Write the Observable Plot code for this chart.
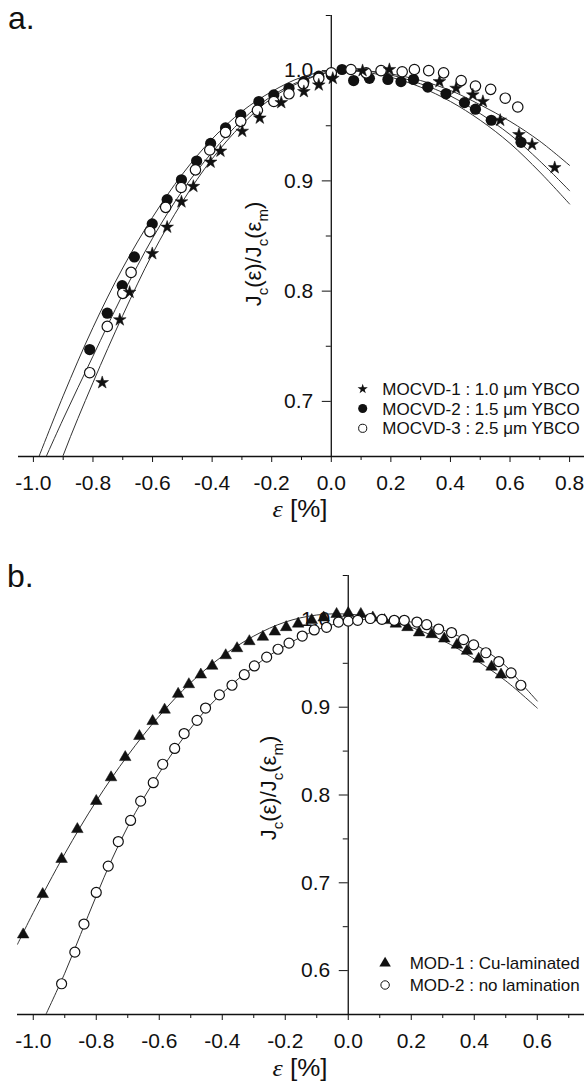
<!DOCTYPE html>
<html>
<head>
<meta charset="utf-8">
<script src="https://cdn.jsdelivr.net/npm/d3@7"></script>
<script src="https://cdn.jsdelivr.net/npm/@observablehq/plot@0.6"></script>
<style>
  body { margin: 0; background: #fff; }
  #chart svg { display: block; }
</style>
</head>
<body>
<div id="chart"></div>
<script>
// ---------- Panel a data ----------
const mocvd1Strain = [-0.769, -0.710, -0.677, -0.601, -0.551, -0.503, -0.463, -0.405, -0.372, -0.299, -0.240, -0.168, -0.092, -0.042, 0.005, 0.105, 0.195, 0.363, 0.419, 0.475, 0.509, 0.567, 0.630, 0.674, 0.750];
const mocvd1Jc     = [0.717, 0.774, 0.799, 0.834, 0.858, 0.881, 0.895, 0.917, 0.927, 0.945, 0.957, 0.971, 0.981, 0.987, 0.993, 1.000, 1.001, 0.990, 0.984, 0.978, 0.972, 0.955, 0.942, 0.933, 0.912];

const mocvd2Strain = [-0.811, -0.752, -0.702, -0.661, -0.601, -0.551, -0.503, -0.452, -0.405, -0.355, -0.304, -0.243, -0.193, -0.142, -0.092, -0.042, 0.000, 0.036, 0.075, 0.128, 0.190, 0.234, 0.276, 0.324, 0.385, 0.447, 0.484, 0.537, 0.637];
const mocvd2Jc     = [0.747, 0.780, 0.805, 0.831, 0.861, 0.883, 0.901, 0.918, 0.934, 0.948, 0.960, 0.972, 0.978, 0.984, 0.990, 0.995, 0.996, 1.001, 0.991, 0.993, 0.992, 0.990, 0.992, 0.985, 0.979, 0.971, 0.965, 0.955, 0.935];

const mocvd3Strain = [-0.811, -0.752, -0.700, -0.672, -0.609, -0.556, -0.504, -0.456, -0.408, -0.355, -0.304, -0.248, -0.193, -0.142, -0.094, -0.042, 0.000, 0.066, 0.117, 0.167, 0.238, 0.279, 0.327, 0.377, 0.436, 0.484, 0.535, 0.584, 0.626];
const mocvd3Jc     = [0.726, 0.768, 0.798, 0.817, 0.854, 0.876, 0.894, 0.910, 0.928, 0.944, 0.954, 0.964, 0.972, 0.979, 0.988, 0.993, 0.998, 1.001, 0.998, 1.000, 0.999, 1.001, 1.000, 0.998, 0.991, 0.986, 0.983, 0.975, 0.967];

// fitted curves
const fitStrainA = [-1.0, -0.9, -0.8, -0.7, -0.6, -0.5, -0.4, -0.3, -0.2, -0.1, 0.0, 0.1, 0.2, 0.3, 0.4, 0.5, 0.6, 0.7, 0.8];
const fitMocvd1  = [0.574, 0.651, 0.717, 0.778, 0.834, 0.881, 0.920, 0.951, 0.975, 0.990, 0.999, 1.000, 0.996, 0.988, 0.977, 0.961, 0.942, 0.918, 0.891];
const fitMocvd2  = [0.637, 0.705, 0.767, 0.821, 0.867, 0.906, 0.938, 0.963, 0.981, 0.994, 1.000, 0.999, 0.994, 0.985, 0.972, 0.955, 0.934, 0.908, 0.879];
const fitMocvd3  = [0.624, 0.684, 0.741, 0.797, 0.848, 0.891, 0.926, 0.955, 0.977, 0.991, 0.999, 1.000, 0.997, 0.991, 0.982, 0.969, 0.954, 0.936, 0.914];

// ---------- Panel b data ----------
const mod1Strain = [-1.032, -0.970, -0.910, -0.860, -0.800, -0.753, -0.708, -0.663, -0.621, -0.583, -0.540, -0.506, -0.468, -0.432, -0.389, -0.353, -0.314, -0.271, -0.233, -0.197, -0.159, -0.116, -0.078, -0.037, 0.000, 0.040, 0.078, 0.115, 0.151, 0.188, 0.225, 0.265, 0.305, 0.345, 0.377, 0.414, 0.455, 0.485];
const mod1Jc     = [0.641, 0.687, 0.727, 0.761, 0.793, 0.820, 0.843, 0.867, 0.884, 0.897, 0.915, 0.926, 0.937, 0.947, 0.959, 0.967, 0.975, 0.980, 0.986, 0.991, 0.995, 0.999, 1.002, 1.006, 1.007, 1.006, 1.002, 0.999, 0.995, 0.991, 0.985, 0.983, 0.978, 0.971, 0.964, 0.955, 0.946, 0.937];

const mod2Strain = [-0.910, -0.868, -0.839, -0.800, -0.762, -0.730, -0.691, -0.659, -0.619, -0.589, -0.551, -0.521, -0.480, -0.453, -0.409, -0.369, -0.330, -0.298, -0.259, -0.223, -0.188, -0.146, -0.108, -0.069, -0.031, 0.000, 0.030, 0.070, 0.107, 0.146, 0.178, 0.218, 0.249, 0.287, 0.328, 0.366, 0.398, 0.437, 0.478, 0.517, 0.548];
const mod2Jc     = [0.585, 0.621, 0.653, 0.689, 0.719, 0.747, 0.771, 0.793, 0.814, 0.835, 0.853, 0.870, 0.885, 0.899, 0.914, 0.925, 0.937, 0.947, 0.957, 0.966, 0.973, 0.981, 0.988, 0.991, 0.997, 0.998, 0.999, 1.001, 1.000, 0.999, 0.999, 0.997, 0.994, 0.989, 0.985, 0.977, 0.971, 0.962, 0.952, 0.939, 0.925];

const fitStrainMod1 = [-1.05, -1.0, -0.9, -0.8, -0.7, -0.6, -0.5, -0.4, -0.3, -0.2, -0.1, 0.0, 0.1, 0.2, 0.3, 0.4, 0.5, 0.6];
const fitMod1       = [0.630, 0.666, 0.733, 0.793, 0.845, 0.890, 0.928, 0.958, 0.981, 0.997, 1.005, 1.006, 1.001, 0.991, 0.976, 0.955, 0.930, 0.899];
const fitStrainMod2 = [-0.96, -0.9, -0.85, -0.8, -0.75, -0.7, -0.65, -0.6, -0.55, -0.5, -0.45, -0.4, -0.35, -0.3, -0.25, -0.2, -0.15, -0.1, -0.05, 0, 0.05, 0.1, 0.15, 0.2, 0.25, 0.3, 0.35, 0.4, 0.45, 0.5, 0.55, 0.6];
const fitMod2       = [0.550, 0.597, 0.641, 0.685, 0.727, 0.764, 0.796, 0.825, 0.852, 0.876, 0.898, 0.916, 0.932, 0.946, 0.959, 0.970, 0.980, 0.988, 0.994, 0.998, 1.000, 1.000, 0.999, 0.997, 0.993, 0.988, 0.981, 0.972, 0.961, 0.947, 0.927, 0.907];

// ---------- tick values & labels ----------
const xMajorA = [-1.0, -0.8, -0.6, -0.4, -0.2, 0.0, 0.2, 0.4, 0.6, 0.8];
const xMinorA = [-0.9, -0.7, -0.5, -0.3, -0.1, 0.1, 0.3, 0.5, 0.7];
const yMajorA = [0.7, 0.8, 0.9, 1.0];
const yMinorA = [0.75, 0.85, 0.95, 1.05];
const xMajorB = [-1.0, -0.8, -0.6, -0.4, -0.2, 0.0, 0.2, 0.4, 0.6];
const xMinorB = [-0.9, -0.7, -0.5, -0.3, -0.1, 0.1, 0.3, 0.5, 0.7];
const yMajorB = [0.6, 0.7, 0.8, 0.9, 1.0];
const yMinorB = [0.65, 0.75, 0.85, 0.95, 1.05];

const legendA = ["MOCVD-1 : 1.0 \u03bcm YBCO", "MOCVD-2 : 1.5 \u03bcm YBCO", "MOCVD-3 : 2.5 \u03bcm YBCO"];
const legendB = ["MOD-1 : Cu-laminated", "MOD-2 : no lamination"];

// ---------- helpers ----------
const FONT = "'Liberation Sans', Arial, sans-serif";
const INK = "#111";
const pts = (xs, ys) => xs.map((x, i) => ({x, y: ys[i]}));
const fmt = d => (Math.abs(d) < 1e-9 ? 0 : d).toFixed(1);

function axes(xMajor, xMinor, yMajor, yMinor, yBottom) {
  return [
    Plot.axisX({ticks: xMinor, tickSize: 4, tickFormat: () => "", stroke: INK, label: null}),
    Plot.axisX({ticks: xMajor, tickSize: 6, tickPadding: 13, tickFormat: fmt, stroke: INK, fill: INK, label: null}),
    Plot.axisY({ticks: yMinor, x: 0, tickSize: 5, tickFormat: () => "", stroke: INK, label: null}),
    Plot.axisY({ticks: yMajor, x: 0, tickSize: 9, tickPadding: 9, tickFormat: fmt, stroke: INK, fill: INK, label: null}),
    Plot.ruleX([0], {stroke: INK, strokeWidth: 1.3}),
    Plot.ruleY([yBottom], {stroke: INK, strokeWidth: 1.3})
  ];
}

function addText(svg, x, y, size, s) {
  return d3.select(svg).append("text")
    .attr("x", x).attr("y", y).attr("fill", INK).attr("text-anchor", "start")
    .style("font-family", FONT).style("font-size", size + "px").text(s);
}

function yLabel(svg, x, y) {
  const t = d3.select(svg).append("text")
    .attr("transform", `translate(${x},${y}) rotate(-90)`)
    .attr("text-anchor", "middle").attr("fill", INK)
    .style("font-family", FONT).style("font-size", "22px");
  const parts = [["J", 0], ["c", 1], ["(\u03b5)/J", 0], ["c", 1], ["(\u03b5", 0], ["m", 1], [")", 0]];
  let cur = 0;
  for (const [s, sub] of parts) {
    const target = sub ? 7 : 0;
    const ts = t.append("tspan").attr("dy", target - cur).text(s);
    if (sub) ts.style("font-size", "15px");
    cur = target;
  }
}

function xLabel(svg, x, y) {
  const t = d3.select(svg).append("text")
    .attr("x", x).attr("y", y).attr("text-anchor", "middle").attr("fill", INK)
    .attr("textLength", 55).attr("lengthAdjust", "spacingAndGlyphs")
    .style("font-family", FONT).style("font-size", "23px");
  t.append("tspan").style("font-family", "'Liberation Serif', 'DejaVu Serif', serif").style("font-style", "italic").text("\u03b5");
  t.append("tspan").text(" [%]");
}

const baseStyle = {fontFamily: FONT, fontSize: "21px", color: INK, background: "white", overflow: "visible"};

// ---------- Panel a ----------
const svgA = Plot.plot({
  width: 584, height: 535,
  marginLeft: 18, marginRight: 0, marginTop: 15, marginBottom: 79,
  x: {domain: [-1.05, 0.85], label: null},
  y: {domain: [0.65, 1.05], label: null},
  style: baseStyle,
  marks: [
    ...axes(xMajorA, xMinorA, yMajorA, yMinorA, 0.65),
    Plot.line(pts(fitStrainA, fitMocvd1), {x: "x", y: "y", curve: "catmull-rom", stroke: "#333", strokeWidth: 1, clip: true}),
    Plot.line(pts(fitStrainA, fitMocvd2), {x: "x", y: "y", curve: "catmull-rom", stroke: "#333", strokeWidth: 1, clip: true}),
    Plot.line(pts(fitStrainA, fitMocvd3), {x: "x", y: "y", curve: "catmull-rom", stroke: "#333", strokeWidth: 1, clip: true}),
    Plot.dot(pts(mocvd2Strain, mocvd2Jc), {x: "x", y: "y", r: 5.6, fill: INK, stroke: "none"}),
    Plot.dot(pts(mocvd3Strain, mocvd3Jc), {x: "x", y: "y", r: 5.2, fill: "white", stroke: INK, strokeWidth: 1.2}),
    Plot.dot(pts(mocvd1Strain, mocvd1Jc), {x: "x", y: "y", symbol: "star", r: 4.0, fill: INK, stroke: INK, strokeWidth: 0.5})
  ]
});
addText(svgA, 8, 28.5, 32, "a.");
yLabel(svgA, 261, 254);
xLabel(svgA, 300, 517);
{
  const g = d3.select(svgA).append("g");
  const ys = [389, 408.5, 428.3];
  const syms = [
    {type: d3.symbolStar, size: 32, fill: INK, stroke: "none"},
    {type: d3.symbolCircle, size: 64, fill: INK, stroke: "none"},
    {type: d3.symbolCircle, size: 52, fill: "white", stroke: INK}
  ];
  syms.forEach((s, i) => {
    g.append("path").attr("d", d3.symbol(s.type, s.size)())
      .attr("transform", `translate(362.7,${ys[i]})`)
      .attr("fill", s.fill).attr("stroke", s.stroke).attr("stroke-width", 1);
    addText(svgA, 382.3, ys[i] + 6, 17, legendA[i]);
  });
}

// ---------- Panel b ----------
const svgB = Plot.plot({
  width: 584, height: 548,
  marginLeft: 17, marginRight: 0, marginTop: 40, marginBottom: 69,
  x: {domain: [-1.05, 0.75], label: null},
  y: {domain: [0.55, 1.05], label: null},
  style: baseStyle,
  marks: [
    ...axes(xMajorB, xMinorB, yMajorB, yMinorB, 0.55),
    Plot.line(pts(fitStrainMod1, fitMod1), {x: "x", y: "y", curve: "catmull-rom", stroke: "#333", strokeWidth: 1, clip: true}),
    Plot.line(pts(fitStrainMod2, fitMod2), {x: "x", y: "y", curve: "catmull-rom", stroke: "#333", strokeWidth: 1, clip: true}),
    Plot.dot(pts(mod1Strain, mod1Jc), {x: "x", y: "y", symbol: "triangle", r: 4.3, fill: INK, stroke: INK, strokeWidth: 0.5}),
    Plot.dot(pts(mod2Strain, mod2Jc), {x: "x", y: "y", r: 5.0, fill: "white", stroke: INK, strokeWidth: 1.2})
  ]
});
addText(svgB, 7, 51.7, 32, "b.");
yLabel(svgB, 276, 253);
xLabel(svgB, 300, 540.6);
{
  const g = d3.select(svgB).append("g");
  const ys = [428.3, 450];
  const syms = [
    {type: d3.symbolTriangle, size: 57, fill: INK, stroke: "none"},
    {type: d3.symbolCircle, size: 56, fill: "white", stroke: INK}
  ];
  syms.forEach((s, i) => {
    g.append("path").attr("d", d3.symbol(s.type, s.size)())
      .attr("transform", `translate(385.1,${ys[i]})`)
      .attr("fill", s.fill).attr("stroke", s.stroke).attr("stroke-width", 1);
    addText(svgB, 409.7, ys[i] + 6, 17, legendB[i]);
  });
}

const root = document.getElementById("chart");
root.appendChild(svgA);
root.appendChild(svgB);
</script>
</body>
</html>
